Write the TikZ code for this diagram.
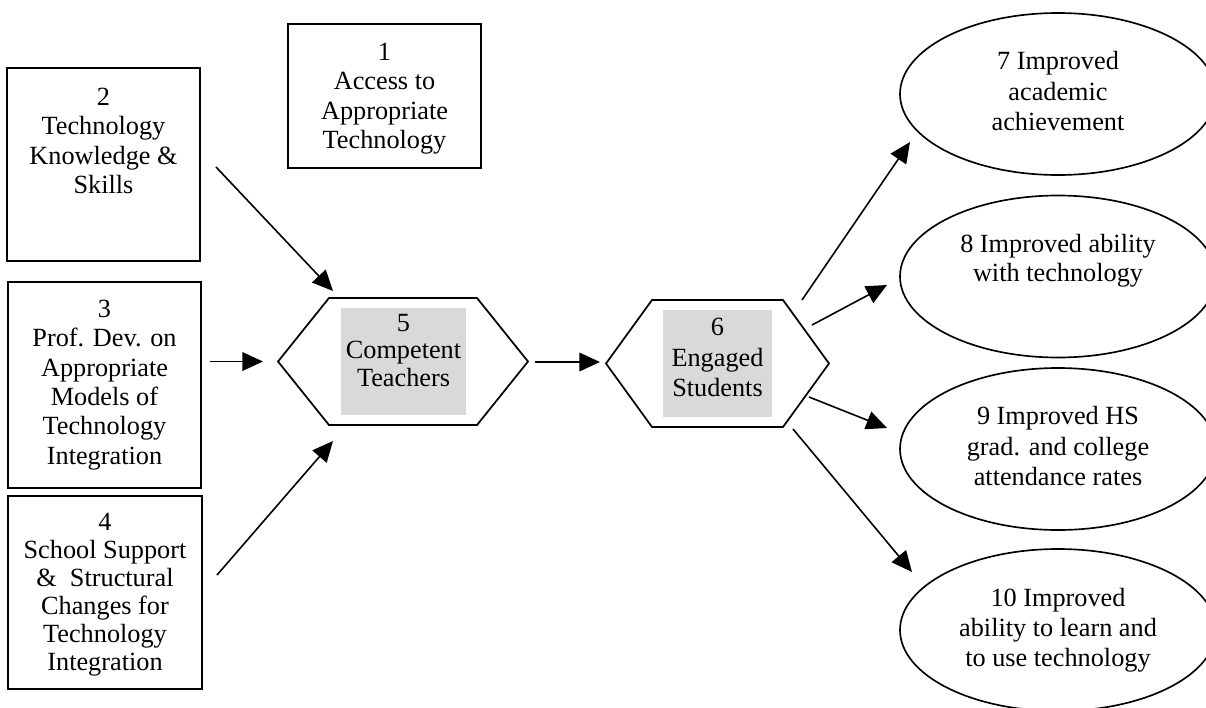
\documentclass[tikz,border=0pt]{standalone}
\usepackage{fontspec}
\setmainfont{Liberation Serif}
\usetikzlibrary{shapes.geometric,arrows.meta,calc}
\definecolor{boxgray}{RGB}{217,217,217}
\begin{document}
\begin{tikzpicture}[x=0.75pt,y=-0.75pt,
  boxnode/.style={draw, line width=1.35pt, inner sep=0pt, outer sep=0pt},
  ovalnode/.style={ellipse, draw, line width=1.25pt, minimum width=237pt, minimum height=121.5pt, inner sep=0pt, outer sep=0pt},
  graynode/.style={fill=boxgray, inner sep=0pt, outer sep=0pt, minimum height=80.25pt},
  hexframe/.style={inner sep=0pt, outer sep=0pt, minimum height=95.25pt},
  hexline/.style={line width=1.3pt, line join=miter},
  txt/.style={inner sep=0pt, align=center, anchor=north, font=\fontsize{19.7}{22}\selectfont},
  conn/.style={line width=1.2pt, -{Triangle[length=15.5pt,width=14pt]}}
]
\path[use as bounding box] (0,0) rectangle (1206,707);
\clip (0,0) rectangle (1206,707);

% left boxes
\node[boxnode, minimum width=144.75pt, minimum height=108pt] (b1) at (384.5,96) {};
\node[boxnode, minimum width=144.75pt, minimum height=144.75pt] (b2) at (103.5,164.5) {};
\node[boxnode, minimum width=144.75pt, minimum height=154.5pt] (b3) at (104.5,385) {};
\node[boxnode, minimum width=145.5pt, minimum height=144.75pt] (b4) at (105,592.5) {};

\node[txt] (t1) at ($(b1.north)+(0,19)$) {1\\Access to\\Appropriate\\Technology};
\node[txt] (t2) at ($(b2.north)+(0,20)$) {2\\Technology\\Knowledge \&\\Skills};
\node[txt] (t3) at ($(b3.north)+(0,18)$) {3\\Prof. Dev. on\\Appropriate\\Models of\\Technology\\Integration};
\node[txt, font=\fontsize{19.7}{21}\selectfont] (t4) at ($(b4.north)+(0,17)$) {4\\School Support\\\&\ \ Structural\\Changes for\\Technology\\Integration};

% hexagons
\node[hexframe, minimum width=187.5pt] (hex5) at (403,361.5) {};
\node[hexframe, minimum width=167.25pt] (hex6) at (717.5,363.5) {};
\node[graynode, minimum width=93.75pt] (g5) at (403.5,361.5) {};
\node[graynode, minimum width=81.75pt] (g6) at (717.5,363.5) {};
\draw[hexline] (hex5.west) -- ($(hex5.north west)+(51,0)$) -- ($(hex5.north east)+(-51,0)$) -- (hex5.east) -- ($(hex5.south east)+(-51,0)$) -- ($(hex5.south west)+(51,0)$) -- cycle;
\draw[hexline] (hex6.west) -- ($(hex6.north west)+(46,0)$) -- ($(hex6.north east)+(-46,0)$) -- (hex6.east) -- ($(hex6.south east)+(-46,0)$) -- ($(hex6.south west)+(46,0)$) -- cycle;
\node[txt, font=\fontsize{19.7}{20.6}\selectfont] (t5) at ($(g5.north)+(0,6)$) {5\\Competent\\Teachers};
\node[txt, font=\fontsize{19.7}{22.9}\selectfont] (t6) at ($(g6.north)+(0,8)$) {6\\Engaged\\Students};

% ellipses
\node[ovalnode] (e7) at (1058,94) {};
\node[ovalnode] (e8) at (1058,276.5) {};
\node[ovalnode] (e9) at (1058,449) {};
\node[ovalnode] (e10) at (1058,630) {};
\node[txt, font=\fontsize{19.7}{23}\selectfont] (t7) at ($(e7.center)+(0,-43)$) {7 Improved\\academic\\achievement};
\node[txt] (t8) at ($(e8.center)+(0,-42.5)$) {8 Improved ability\\with technology};
\node[txt, font=\fontsize{19.7}{23}\selectfont] (t9) at ($(e9.center)+(0,-43)$) {9 Improved HS\\grad. and college\\attendance rates};
\node[txt, font=\fontsize{19.7}{22.5}\selectfont] (t10) at ($(e10.center)+(0,-42)$) {10 Improved\\ability to learn and\\to use technology};

% connectors
\draw[conn] ($(b2.east)+(16,2.5)$) -- ($(hex5.north west)+(55,-7)$);
\draw[conn] ($(b3.east |- hex5.west)+(9,0)$) -- ($(hex5.west)+(-15,0)$);
\draw[conn] ($(b4.east)+(15,-17.5)$) -- ($(hex5.south west)+(55,16)$);
\draw[conn] ($(hex5.east)+(7,0.5)$) -- ($(hex6.west)+(-6,-1.5)$);
\draw[conn] ($(hex6.north east)+(-27,0)$) -- ($(e7.west)+(10,48)$);
\draw[conn] ($(hex6.east)+(-17,-38.5)$) -- ($(e8.west)+(-13,8.5)$);
\draw[conn] ($(hex6.east)+(-20,33.5)$) -- ($(e9.west)+(-13,-21)$);
\draw[conn] ($(hex6.south east)+(-36,2)$) -- ($(e10.west)+(12,-58)$);
\end{tikzpicture}
\end{document}
